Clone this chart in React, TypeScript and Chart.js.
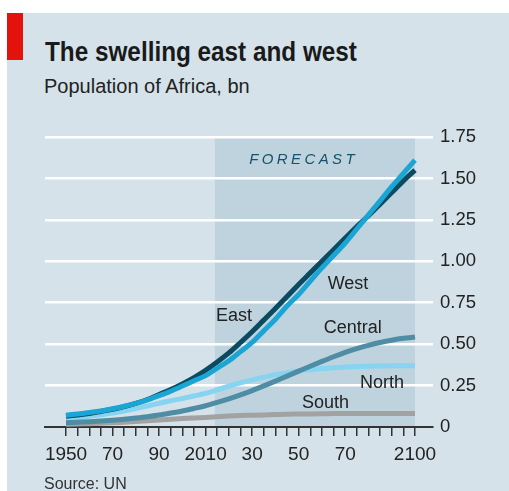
import React, { useEffect, useRef } from 'react';
import { Chart, registerables } from 'chart.js';

Chart.register(...registerables);

// ---- Data (bn people) ----
const YEARS = [
  1950, 1955, 1960, 1965, 1970, 1975, 1980, 1985, 1990, 1995, 2000, 2005, 2010, 2015, 2020, 2025,
  2030, 2035, 2040, 2045, 2050, 2055, 2060, 2065, 2070, 2075, 2080, 2085, 2090, 2095, 2100,
];
const EAST = [
  0.065, 0.073, 0.082, 0.094, 0.107, 0.123, 0.142, 0.166, 0.196, 0.226, 0.26, 0.298, 0.342, 0.392, 0.447, 0.51,
  0.575, 0.645, 0.715, 0.787, 0.86, 0.93, 1.0, 1.07, 1.14, 1.21, 1.275, 1.345, 1.415, 1.485, 1.55,
];
const WEST = [
  0.071, 0.078, 0.087, 0.097, 0.11, 0.125, 0.143, 0.164, 0.189, 0.216, 0.247, 0.279, 0.31, 0.355, 0.4, 0.455,
  0.51, 0.58, 0.65, 0.73, 0.8, 0.88, 0.96, 1.035, 1.11, 1.195, 1.28, 1.365, 1.45, 1.53, 1.61,
];
const CENTRAL = [
  0.026, 0.029, 0.032, 0.036, 0.041, 0.047, 0.054, 0.062, 0.072, 0.084, 0.097, 0.112, 0.128, 0.148, 0.17, 0.194,
  0.22, 0.248, 0.277, 0.307, 0.337, 0.367, 0.396, 0.424, 0.45, 0.473, 0.493, 0.51, 0.524, 0.535, 0.543,
];
const NORTH = [
  0.049, 0.056, 0.065, 0.074, 0.085, 0.097, 0.111, 0.127, 0.143, 0.158, 0.172, 0.187, 0.203, 0.224, 0.246, 0.266,
  0.284, 0.3, 0.315, 0.327, 0.338, 0.346, 0.353, 0.358, 0.362, 0.365, 0.367, 0.368, 0.369, 0.369, 0.369,
];
const SOUTH = [
  0.016, 0.018, 0.02, 0.022, 0.025, 0.029, 0.033, 0.037, 0.042, 0.047, 0.051, 0.055, 0.058, 0.062, 0.066, 0.069,
  0.071, 0.073, 0.075, 0.077, 0.078, 0.079, 0.08, 0.081, 0.081, 0.082, 0.082, 0.082, 0.082, 0.082, 0.082,
];

const X_TICKS = YEARS;
const X_TICK_LABELS: Record<number, string> = {
  1950: '1950', 1970: '70', 1990: '90', 2010: '2010', 2030: '30', 2050: '50', 2070: '70', 2100: '2100',
};
const Y_TICKS = [0, 0.25, 0.5, 0.75, 1.0, 1.25, 1.5, 1.75];

const FORECAST_START = 2014;
const FORECAST_END = 2100;
const FORECAST_TEXT = 'FORECAST';

const SERIES_NAMES = ['West', 'East', 'Central', 'North', 'South'];
const SERIES_VALUES = [WEST, EAST, CENTRAL, NORTH, SOUTH];
const SERIES_COLORS = ['#1ba5d5', '#0b4b61', '#4e8da4', '#87d4f1', '#a2a2a2'];

// label anchors in data coordinates (year, value)
const LABEL_ANCHORS: { text: string; x: number; y: number }[] = [
  { text: 'East', x: 2022.2, y: 0.637 },
  { text: 'West', x: 2071.2, y: 0.83 },
  { text: 'Central', x: 2073.2, y: 0.566 },
  { text: 'North', x: 2085.8, y: 0.234 },
  { text: 'South', x: 2061.5, y: 0.117 },
];

const FONT = '"Liberation Sans", Arial, sans-serif';

export default function App() {
  const canvasRef = useRef<HTMLCanvasElement | null>(null);

  useEffect(() => {
    const canvas = canvasRef.current;
    if (!canvas) return;

    const shadePlugin = {
      id: 'shadeAndLabels',
      beforeDraw(chart: any) {
        const { ctx, scales } = chart;
        const x = scales.x;
        const y = scales.y;
        const l = x.getPixelForValue(FORECAST_START);
        const r = x.getPixelForValue(FORECAST_END);
        const t = y.getPixelForValue(Y_TICKS[Y_TICKS.length - 1]);
        const b = y.getPixelForValue(0);
        ctx.save();
        ctx.fillStyle = '#bed3de';
        ctx.fillRect(l, t, r - l, b - t);
        ctx.restore();
      },
      afterDatasetsDraw(chart: any) {
        const { ctx, scales } = chart;
        const x = scales.x;
        const y = scales.y;
        ctx.save();
        ctx.fillStyle = '#222';
        ctx.font = `18px ${FONT}`;
        ctx.textAlign = 'center';
        ctx.textBaseline = 'alphabetic';
        for (const a of LABEL_ANCHORS) {
          ctx.fillText(a.text, x.getPixelForValue(a.x), y.getPixelForValue(a.y));
        }
        // FORECAST, letter spaced italic
        ctx.font = `italic 15px ${FONT}`;
        ctx.fillStyle = '#17526a';
        ctx.textAlign = 'left';
        const spacing = 3.4;
        const widths = FORECAST_TEXT.split('').map((c) => ctx.measureText(c).width);
        const total = widths.reduce((s, w) => s + w, 0) + spacing * (FORECAST_TEXT.length - 1);
        const cx = x.getPixelForValue(2051.4);
        const by = y.getPixelForValue(1.588);
        let px = cx - total / 2;
        FORECAST_TEXT.split('').forEach((c, i) => {
          ctx.fillText(c, px, by);
          px += widths[i] + spacing;
        });
        ctx.restore();
      },
    };

    const chart = new Chart(canvas, {
      type: 'line',
      data: {
        datasets: SERIES_NAMES.map((name, i) => ({
          label: name,
          data: YEARS.map((yr, j) => ({ x: yr, y: SERIES_VALUES[i][j] })),
          borderColor: SERIES_COLORS[i],
          backgroundColor: SERIES_COLORS[i],
          borderWidth: 5,
          borderCapStyle: 'butt' as const,
          pointRadius: 0,
          cubicInterpolationMode: 'monotone' as const,
          fill: false,
        })),
      },
      options: {
        responsive: false,
        animation: false,
        devicePixelRatio: 1,
        layout: { padding: { left: 45, top: 137, right: 0, bottom: 0 } },
        plugins: {
          legend: { display: false },
          tooltip: { enabled: false },
          title: { display: false },
        },
        scales: {
          x: {
            type: 'linear',
            min: 1940.97,
            max: 2107.74,
            afterBuildTicks: (scale: any) => {
              scale.ticks = X_TICKS.map((v) => ({ value: v }));
            },
            afterFit: (scale: any) => {
              scale.height = 64;
            },
            ticks: {
              autoSkip: false,
              maxRotation: 0,
              minRotation: 0,
              padding: 7,
              color: '#222',
              font: { family: FONT, size: 19 },
              callback: (v: any) => X_TICK_LABELS[Number(v)] ?? '',
            },
            grid: {
              display: true,
              drawOnChartArea: false,
              drawTicks: true,
              tickLength: 9,
              color: '#333',
              lineWidth: 1.5,
            },
            border: { display: true, color: '#333', width: 2 },
          },
          y: {
            type: 'linear',
            position: 'right',
            min: 0,
            max: 1.75,
            afterBuildTicks: (scale: any) => {
              scale.ticks = Y_TICKS.map((v) => ({ value: v }));
            },
            afterFit: (scale: any) => {
              scale.width = 76;
            },
            ticks: {
              padding: 7,
              color: '#222',
              font: { family: FONT, size: 18.5 },
              callback: (v: any) => (Number(v) === 0 ? '0' : Number(v).toFixed(2)),
            },
            grid: {
              drawTicks: false,
              color: (c: any) => (c.tick && c.tick.value === 0 ? 'rgba(0,0,0,0)' : '#ffffff'),
              lineWidth: 2.5,
            },
            border: { display: false },
          },
        },
      },
      plugins: [shadePlugin],
    });

    return () => {
      chart.destroy();
    };
  }, []);

  return (
    <div style={{ position: 'fixed', left: 0, top: 0, width: 509, height: 491, background: '#ffffff', overflow: 'hidden' }}>
      <div style={{ position: 'absolute', left: 7, top: 13, width: 502, height: 478, background: '#d5e2ea' }} />
      <div style={{ position: 'absolute', left: 7, top: 13, width: 16, height: 47, background: '#e3120b' }} />
      <div
        style={{
          position: 'absolute',
          left: 45,
          top: 39,
          fontFamily: FONT,
          fontWeight: 'bold',
          fontSize: 27,
          lineHeight: '27px',
          color: '#1a1a1a',
          whiteSpace: 'nowrap',
          transform: 'scaleX(0.9)',
          transformOrigin: 'left top',
        }}
      >
        The swelling east and west
      </div>
      <div
        style={{
          position: 'absolute',
          left: 44,
          top: 76,
          fontFamily: FONT,
          fontSize: 20,
          lineHeight: '20px',
          color: '#222',
          whiteSpace: 'nowrap',
        }}
      >
        Population of Africa, bn
      </div>
      <canvas ref={canvasRef} width={509} height={491} style={{ position: 'absolute', left: 0, top: 0, width: 509, height: 491 }} />
      <div
        style={{
          position: 'absolute',
          left: 44,
          top: 476,
          fontFamily: FONT,
          fontSize: 16,
          lineHeight: '16px',
          color: '#333',
          whiteSpace: 'nowrap',
        }}
      >
        Source: UN
      </div>
    </div>
  );
}
